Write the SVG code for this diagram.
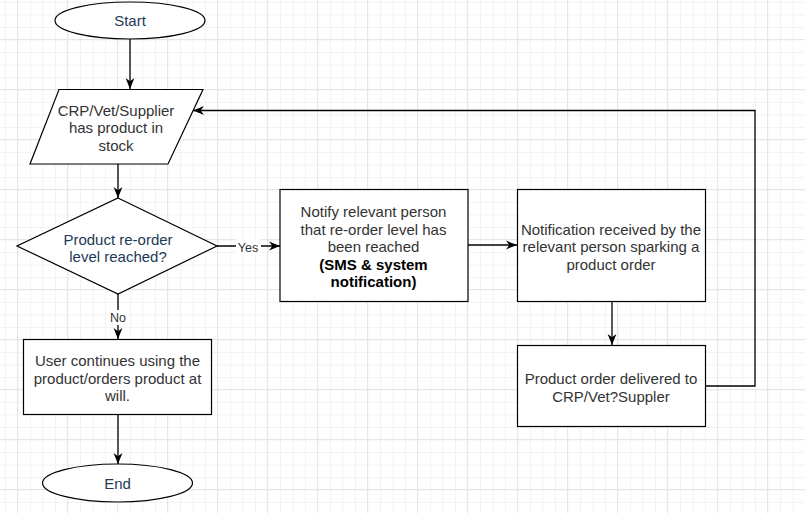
<svg xmlns="http://www.w3.org/2000/svg" width="805" height="513" viewBox="0 0 805 513">
<defs>
<pattern id="minor" patternUnits="userSpaceOnUse" x="5" y="2" width="12.5" height="12.5">
<path d="M0.5,0 V12.5 M0,0.5 H12.5" stroke="#f3f3f3" stroke-width="1" fill="none"/>
</pattern>
<pattern id="major" patternUnits="userSpaceOnUse" x="17" y="39" width="50" height="50">
<path d="M0.5,0 V50 M0,0.5 H50" stroke="#e6e6e6" stroke-width="1" fill="none"/>
</pattern>
<marker id="arr" viewBox="0 0 10 10" markerWidth="11" markerHeight="11" refX="10" refY="5" orient="auto" markerUnits="userSpaceOnUse">
<path d="M0,1 L10,5 L0,9 L3,5 Z" fill="#000"/>
</marker>
<style>
.shape{fill:#fff;stroke:#000;stroke-width:1.2}
.t{font-family:"Liberation Sans",Arial,sans-serif;font-size:15px;text-anchor:middle;fill:#333}
.n{fill:#1e3a56}
.b{font-weight:bold;fill:#000}
.c{fill:none;stroke:#000;stroke-width:1.3}
.lbl{font-family:"Liberation Sans",Arial,sans-serif;font-size:12.5px;text-anchor:middle;fill:#333}
</style>
</defs>
<rect width="805" height="513" fill="#fff"/>
<rect width="805" height="513" fill="url(#minor)"/>
<rect width="805" height="513" fill="url(#major)"/>

<g id="connectors">
<line class="c" x1="130" y1="39" x2="130" y2="89" marker-end="url(#arr)"/>
<line class="c" x1="118" y1="164" x2="118" y2="198" marker-end="url(#arr)"/>
<line class="c" x1="217" y1="246" x2="280" y2="246" marker-end="url(#arr)"/>
<rect x="236" y="239" width="25" height="15" fill="#fff"/>
<text class="lbl" x="248" y="252">Yes</text>
<line class="c" x1="118" y1="294" x2="118" y2="339" marker-end="url(#arr)"/>
<rect x="108" y="310" width="20" height="15" fill="#fff"/>
<text class="lbl" x="118" y="322">No</text>
<line class="c" x1="118" y1="414" x2="118" y2="464" marker-end="url(#arr)"/>
<line class="c" x1="468" y1="245" x2="517" y2="245" marker-end="url(#arr)"/>
<line class="c" x1="612" y1="302" x2="612" y2="345" marker-end="url(#arr)"/>
<polyline class="c" points="705,386 755,386 755,110.5 193,110.5" marker-end="url(#arr)"/>
</g>

<g id="start">
<ellipse class="shape" cx="130" cy="20.5" rx="75" ry="18.5"/>
<text class="t n" x="130" y="26">Start</text>
</g>

<g id="stock">
<polygon class="shape" points="59,89.5 203,89.5 168,164 30,164"/>
<text class="t" x="116" y="115.5">CRP/Vet/Supplier</text>
<text class="t" x="116" y="133">has product in</text>
<text class="t" x="116" y="150.5">stock</text>
</g>

<g id="decision">
<polygon class="shape" points="118,198 217,246 118,294 17,246"/>
<text class="t n" x="118" y="244.5">Product re-order</text>
<text class="t n" x="118" y="261.5">level reached?</text>
</g>

<g id="continue">
<rect class="shape" x="23.5" y="339.5" width="188" height="75"/>
<text class="t" x="117.5" y="365.5">User continues using the</text>
<text class="t" x="117.5" y="383.5">product/orders product at</text>
<text class="t" x="117.5" y="401">will.</text>
</g>

<g id="end">
<ellipse class="shape" cx="117.5" cy="483" rx="75" ry="19"/>
<text class="t n" x="117.5" y="488.5">End</text>
</g>

<g id="notify">
<rect class="shape" x="280" y="189.5" width="188" height="112"/>
<text class="t" x="373.5" y="217">Notify relevant person</text>
<text class="t" x="373.5" y="234.5">that re-order level has</text>
<text class="t" x="373.5" y="251.5">been reached</text>
<text class="t b" x="373.5" y="269.5">(SMS &amp; system</text>
<text class="t b" x="373.5" y="286.5">notification)</text>
</g>

<g id="received">
<rect class="shape" x="517.5" y="189.5" width="188" height="112"/>
<text class="t" x="611" y="234.5">Notification received by the</text>
<text class="t" x="611" y="252">relevant person sparking a</text>
<text class="t" x="611" y="269.5">product order</text>
</g>

<g id="delivered">
<rect class="shape" x="517.5" y="345.5" width="188" height="81"/>
<text class="t" x="611" y="383.5">Product order delivered to</text>
<text class="t" x="611" y="401.5">CRP/Vet?Suppler</text>
</g>
</svg>
